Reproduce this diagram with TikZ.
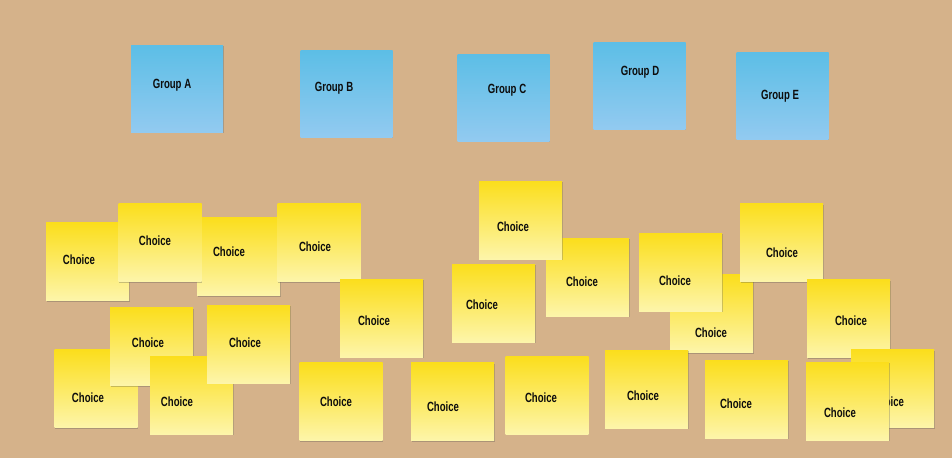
\documentclass[tikz,border=0pt]{standalone}
\usepackage{fontspec}
\newfontfamily\notefont{Liberation Sans}[FakeStretch=0.72]
\usetikzlibrary{shadows}
\definecolor{cork}{RGB}{213,178,138}
\definecolor{bluetop}{RGB}{92,190,230}
\definecolor{bluebot}{RGB}{146,202,240}
\definecolor{yellowtop}{RGB}{251,222,28}
\definecolor{yellowbot}{RGB}{253,245,170}
\tikzset{
  note/.style={rectangle, inner sep=0pt, outer sep=0pt,
    drop shadow={shadow xshift=0.4pt, shadow yshift=-0.9pt, opacity=0.3, fill=black!70}},
  groupnote/.style={note, minimum width=69pt, minimum height=65.25pt,
    top color=bluetop, bottom color=bluebot},
  choicenote/.style={note, minimum width=62.25pt, minimum height=58.5pt,
    top color=yellowtop, bottom color=yellowbot},
  notetext/.style={font=\notefont\bfseries\fontsize{10}{12}\selectfont, text=black!95, inner sep=0pt}
}

\begin{document}
\begin{tikzpicture}[x=0.75pt,y=-0.75pt]
\fill[cork] (0,0) rectangle (952,458);

% groups
\node[groupnote](grpA) at (177,88.5){};
\node[notetext](grpAlbl) at (172,85){Group A};
\node[groupnote](grpB) at (346.5,93.5){};
\node[notetext](grpBlbl) at (334,88){Group B};
\node[groupnote](grpC) at (503.5,97.5){};
\node[notetext](grpClbl) at (507,90){Group C};
\node[groupnote](grpD) at (639.5,85.5){};
\node[notetext](grpDlbl) at (640,72){Group D};
\node[groupnote](grpE) at (782.5,95.5){};
\node[notetext](grpElbl) at (780,96){Group E};

% choices, left
\node[choicenote](ch1) at (87.5,261.5){};
\node[notetext](ch1lbl) at (79,260){Choice};
\node[choicenote](ch2) at (238.5,256.5){};
\node[notetext](ch2lbl) at (229,252){Choice};
\node[choicenote](ch3) at (160,242.5){};
\node[notetext](ch3lbl) at (155,241){Choice};
\node[choicenote](ch4) at (319,242.5){};
\node[notetext](ch4lbl) at (315,247){Choice};
\node[choicenote](ch5) at (381.5,318){};
\node[notetext](ch5lbl) at (374,321){Choice};
\node[choicenote](ch6) at (96,388.5){};
\node[notetext](ch6lbl) at (88,398){Choice};
\node[choicenote](ch7) at (151.5,346.5){};
\node[notetext](ch7lbl) at (148,343){Choice};
\node[choicenote](ch8) at (191.5,395){};
\node[notetext](ch8lbl) at (177,402){Choice};
\node[choicenote](ch9) at (248.5,344){};
\node[notetext](ch9lbl) at (245,343){Choice};
\node[choicenote](ch10) at (341,401.5){};
\node[notetext](ch10lbl) at (336,402){Choice};
\node[choicenote](ch11) at (452.5,401.5){};
\node[notetext](ch11lbl) at (443,407){Choice};

% choices, right
\node[choicenote](ch12) at (587.5,277){};
\node[notetext](ch12lbl) at (582,282){Choice};
\node[choicenote](ch13) at (520.5,220){};
\node[notetext](ch13lbl) at (513,227){Choice};
\node[choicenote](ch14) at (493.5,303){};
\node[notetext](ch14lbl) at (482,305){Choice};
\node[choicenote](ch15) at (711.5,313.5){};
\node[notetext](ch15lbl) at (711,333){Choice};
\node[choicenote](ch16) at (680.5,272){};
\node[notetext](ch16lbl) at (675,281){Choice};
\node[choicenote](ch17) at (781.5,242.5){};
\node[notetext](ch17lbl) at (782,253){Choice};
\node[choicenote](ch18) at (848.5,318.5){};
\node[notetext](ch18lbl) at (851,321){Choice};
\node[choicenote](ch19) at (547,395){};
\node[notetext](ch19lbl) at (541,398){Choice};
\node[choicenote](ch20) at (646.5,389){};
\node[notetext](ch20lbl) at (643,396){Choice};
\node[choicenote](ch21) at (746.5,399){};
\node[notetext](ch21lbl) at (736,404){Choice};
\node[choicenote](ch22) at (892.5,388.5){};
\node[notetext](ch22lbl) at (888,402){Choice};
\node[choicenote](ch23) at (847.5,401){};
\node[notetext](ch23lbl) at (840,413){Choice};
\end{tikzpicture}
\end{document}
